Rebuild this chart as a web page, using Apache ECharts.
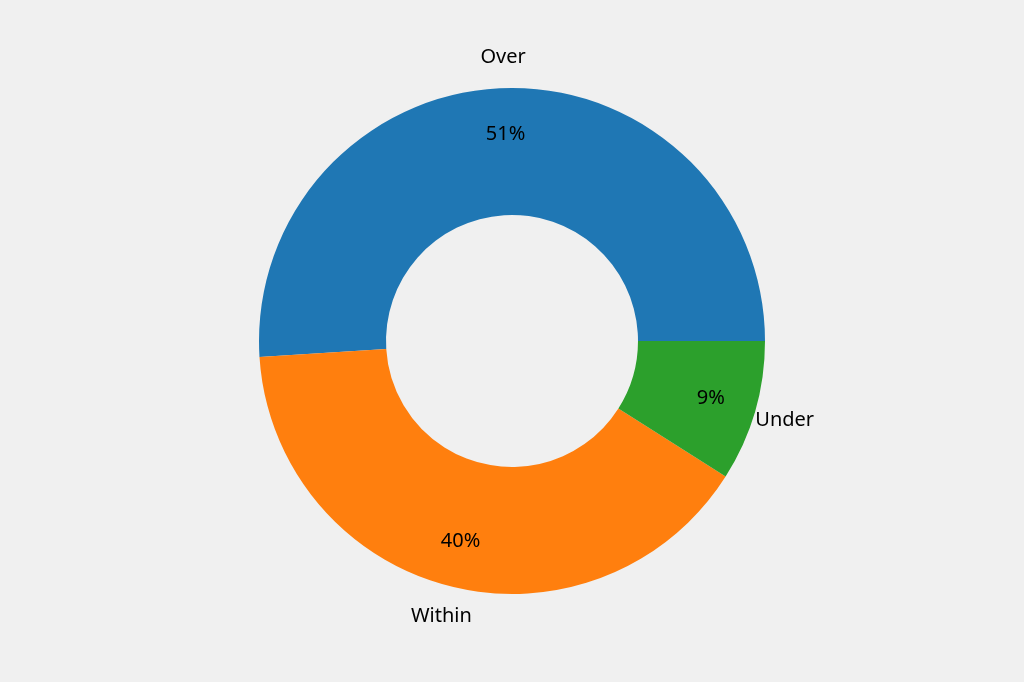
<!DOCTYPE html>
<html><head><meta charset="utf-8">
<script src="https://cdn.jsdelivr.net/npm/echarts@6/dist/echarts.min.js"></script>
<style>html,body{margin:0;padding:0;background:#f0f0f0}#c{width:1024px;height:682px}</style>
</head><body><div id="c"></div>
<script>
const categories = ['Over', 'Within', 'Under'];
const values = [51, 40, 9];
const colors = ['#1f77b4', '#ff7f0e', '#2ca02c'];

const data = categories.map((n, i) => ({ name: n, value: values[i], itemStyle: { color: colors[i] } }));
const clear = categories.map((n, i) => ({ name: n, value: values[i], itemStyle: { color: 'rgba(0,0,0,0)' } }));
const font = { fontFamily: 'Noto Sans', fontSize: 20, color: '#000' };
const common = { type: 'pie', center: [512, 341], startAngle: 0, clockwise: false, silent: true, animation: false, labelLine: { show: false } };

const chart = echarts.init(document.getElementById('c'));
chart.setOption({
  backgroundColor: '#f0f0f0',
  series: [
    Object.assign({}, common, { radius: [126, 253], data: data, label: { show: false } }),
    Object.assign({}, common, { radius: [155, 253], data: clear, z: 3,
      label: Object.assign({ show: true, position: 'inside', formatter: p => Math.round(p.percent) + '%' }, font) }),
    Object.assign({}, common, { radius: [253, 309], data: clear, z: 3,
      label: Object.assign({ show: true, position: 'inside', formatter: '{b}' }, font) })
  ]
});
</script></body></html>
